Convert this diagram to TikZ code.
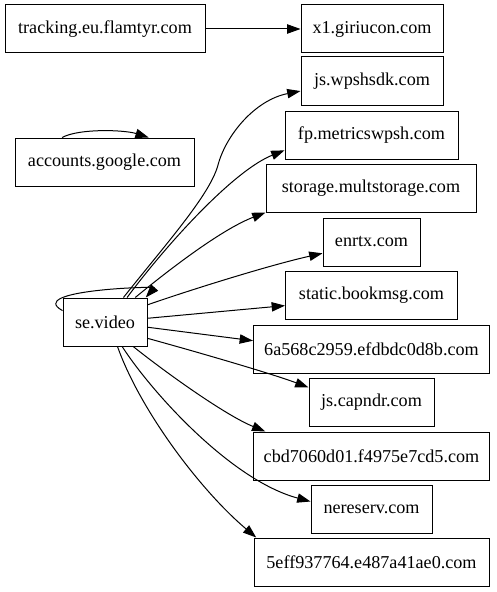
\documentclass[tikz,border=0pt]{standalone}
\usepackage{fontspec}
\setmainfont{Liberation Serif}
\usetikzlibrary{arrows.meta}

\begin{document}
\begin{tikzpicture}[
  x=0.75pt,y=-0.75pt,
  every node/.style={font=\fontsize{13.6pt}{16pt}\selectfont},
  host/.style={rectangle,draw,line width=0.75pt,inner xsep=4pt,inner ysep=2pt,
               minimum width=54pt,minimum height=36pt},
  arrow/.style={-{Triangle[length=10pt,width=7pt]},line width=0.75pt},
]
\useasboundingbox (0,0) rectangle (496,592);

% Left column
\node[host,minimum width=150pt]    (flamtyr) at (105,29)    {tracking.eu.flamtyr.com};
\node[host,minimum width=134.25pt] (google)  at (104.5,162) {accounts.google.com};
\node[host,minimum width=63pt]     (sevideo) at (105,322)   {se.video};

% Right column
\node[host,minimum width=106.5pt]  (giriucon) at (372,29)    {x1.giriucon.com};
\node[host,minimum width=106.5pt]  (wpshsdk)  at (372,81)    {js.wpshsdk.com};
\node[host,minimum width=129.75pt] (metrics)  at (371.5,135) {fp.metricswpsh.com};
\node[host,minimum width=157.5pt]  (storage)  at (371,188)   {storage.multstorage.com};
\node[host,minimum width=72.75pt]  (enrtx)    at (371.5,242) {enrtx.com};
\node[host,minimum width=129pt]    (bookmsg)  at (371.5,295) {static.bookmsg.com};
\node[host,minimum width=177pt]    (efdbdc)   at (371.5,349) {6a568c2959.efdbdc0d8b.com};
\node[host,minimum width=93.75pt]  (capndr)   at (371.5,402) {js.capndr.com};
\node[host,minimum width=177pt]    (fcd)      at (371.5,456) {cbd7060d01.f4975e7cd5.com};
\node[host,minimum width=90.75pt]  (nereserv) at (371.5,509) {nereserv.com};
\node[host,minimum width=176.25pt] (aeo)      at (371.5,562) {5eff937764.e487a41ae0.com};

% Top edge
\draw[arrow] (flamtyr) -- (giriucon);

% Self loops
\draw[arrow] (google.150) .. controls (80,128) and (125,130) .. (google.29);
\draw[arrow] (sevideo.165) .. controls (25,290) and (156,286) .. (sevideo.31);

% Edges from se.video
\draw[arrow] (sevideo.53) .. controls (165,245) and (210,195) .. (218,165)
                          .. controls (226,135) and (255,100) .. (wpshsdk.188);
\draw[arrow] (sevideo.48) .. controls (170,240) and (235,170) .. (metrics.190);
\draw[arrow] (sevideo.39) .. controls (165,273) and (220,230) .. (storage.south west);
\draw[arrow] (sevideo.22) .. controls (190,290) and (270,265) .. (enrtx.193);
\draw[arrow] (sevideo.5) -- (bookmsg.187);
\draw[arrow] (sevideo.353) -- (efdbdc.176);
\draw[arrow] (sevideo.339) .. controls (190,350) and (270,373) .. (capndr.167);
\draw[arrow] (sevideo.319) .. controls (165,372) and (225,415) .. (fcd.167);
\draw[arrow] (sevideo.305) .. controls (150,390) and (230,480) .. (nereserv.173);
\draw[arrow] (sevideo.297) .. controls (140,410) and (200,490) .. (aeo.168);

\end{tikzpicture}
\end{document}
